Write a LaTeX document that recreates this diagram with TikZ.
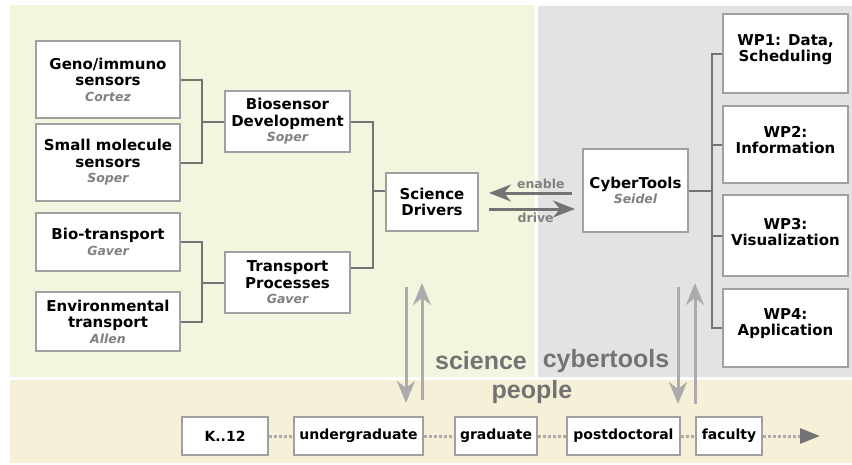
\documentclass[tikz,border=0pt]{standalone}
\usepackage{fontspec}
\setmainfont{DejaVu Sans}
\newfontfamily\labelfont{Liberation Sans}
\usetikzlibrary{arrows.meta}
\definecolor{sciencebg}{RGB}{241,247,222}
\definecolor{cyberbg}{RGB}{227,227,227}
\definecolor{peoplebg}{RGB}{247,240,217}
\definecolor{boxline}{RGB}{160,160,160}
\definecolor{linkgrey}{RGB}{115,115,115}
\definecolor{namegrey}{RGB}{128,128,128}
\definecolor{vertgrey}{RGB}{172,172,172}
\tikzset{
  box/.style={draw=boxline, line width=2pt, fill=white, align=center, inner sep=2pt,
    font=\fontsize{15}{16.5}\selectfont\bfseries},
  stage/.style={box, minimum height=38pt, font=\fontsize{14}{16}\selectfont\bfseries},
  link/.style={draw=linkgrey, line width=2pt},
  flow/.style={draw=linkgrey, line width=3pt, -{Stealth[length=22pt,width=17pt,inset=7pt]}},
  updown/.style={draw=vertgrey, line width=3pt, -{Stealth[length=22pt,width=18pt,inset=7pt]}},
  tag/.style={text=namegrey, font=\fontsize{12.5}{14}\selectfont\bfseries},
  area/.style={text=linkgrey, font=\labelfont\fontsize{25}{25}\selectfont\bfseries}
}
\newcommand{\who}[1]{\\[-1pt]{\color{namegrey}\fontsize{12.5}{14}\selectfont\itshape #1}}
\begin{document}
\begin{tikzpicture}[x=1pt,y=-1pt]
\useasboundingbox (0,0) rectangle (852,464);
% areas
\fill[sciencebg] (10,5) rectangle (535,377);
\fill[cyberbg] (538,6) rectangle (852,377);
\fill[peoplebg] (10,380) rectangle (852,463);
% science side
\node[box, minimum width=144pt, minimum height=77pt] (geno) at (108,79.5){Geno/immuno\\sensors\who{Cortez}};
\node[box, minimum width=144pt, minimum height=77pt] (small) at (108,162.5){Small molecule\\sensors\who{Soper}};
\node[box, minimum width=144pt, minimum height=58pt] (biot) at (108,242){Bio-transport\who{Gaver}};
\node[box, minimum width=144pt, minimum height=59pt] (env) at (108,321.5){Environmental\\transport\who{Allen}};
\node[box, minimum width=125pt, minimum height=61pt] (biodev) at (287.5,121.5){Biosensor\\Development\who{Soper}};
\node[box, minimum width=125pt, minimum height=61pt] (trans) at (287.5,282.5){Transport\\Processes\who{Gaver}};
\node[box, minimum width=92pt, minimum height=58pt] (sd) at (432,202){Science\\Drivers};
\coordinate (jbio) at (202,121.5);
\coordinate (jtr) at (202,282.5);
\coordinate (jsd) at (373,191);
\draw[link] (geno.east) -| (jbio) |- (small.east);
\draw[link] (jbio) -- (biodev.west);
\draw[link] (biot.east) -| (jtr) |- (env.east);
\draw[link] (jtr) -- (trans.west);
\draw[link] (biodev.east) -| (jsd) |- ([yshift=14.5pt]trans.east);
\draw[link] (jsd) -- (sd.west |- jsd);
% cybertools side
\node[box, minimum width=105pt, minimum height=83pt] (ct) at (635.5,190.5){CyberTools\who{Seidel}};
\node[box, minimum width=125pt, minimum height=79pt] (wp1) at (785.5,53.5){WP1: Data,\\Scheduling\\[-6pt]};
\node[box, minimum width=125pt, minimum height=77pt] (wp2) at (785.5,144.5){WP2:\\Information\\[-7pt]};
\node[box, minimum width=125pt, minimum height=81pt] (wp3) at (785.5,235.5){WP3:\\Visualization\\[-9pt]};
\node[box, minimum width=125pt, minimum height=78pt] (wp4) at (785.5,328){WP4:\\Application\\[-5pt]};
\coordinate (jct) at (712,190.5);
\draw[link] (ct.east) -- (jct);
\draw[link] (wp1.west) -| (jct) |- (wp4.west);
\draw[link] (jct |- wp2.west) -- (wp2.west);
\draw[link] (jct |- wp3.west) -- (wp3.west);
% enable / drive
\draw[flow, shorten <=10pt, shorten >=10pt] ([yshift=-2.5pt]ct.west) -- ([yshift=-2.5pt]ct.west -| sd.east)
  node[tag, pos=0.4, above=-1pt] (enable) {enable};
\draw[flow, shorten <=10pt, shorten >=7pt] ([yshift=-7pt]sd.east) -- ([yshift=-7pt]sd.east -| ct.west)
  node[tag, pos=0.55, below=-1pt] (drive) {drive};
% people
\node[stage, minimum width=86pt] (k12) at (225,436){K..12};
\node[stage, minimum width=129pt] (ug) at (358.5,436){undergraduate};
\node[stage, minimum width=82pt] (grad) at (496,436){graduate};
\node[stage, minimum width=113pt] (pd) at (623.5,436){postdoctoral};
\node[stage, minimum width=66pt] (fac) at (729,436){faculty};
\coordinate (next) at (820,436);
\draw[draw=vertgrey, line width=3pt, dash pattern=on 3pt off 2pt]
  (k12) -- (ug) (ug) -- (grad) (grad) -- (pd) (pd) -- (fac);
\draw[draw=vertgrey, line width=3pt, dash pattern=on 3pt off 2pt,
  -{Triangle[length=20pt,width=15pt,color=linkgrey]}] (fac) -- (next);
% science/cybertools/people exchange
\coordinate (sdown) at (406,287);
\coordinate (sdownend) at (406,403);
\coordinate (sup) at (422,400);
\coordinate (supend) at (422,283);
\coordinate (cdown) at (678,287);
\coordinate (cdownend) at (678,404);
\coordinate (cup) at (695,404);
\coordinate (cupend) at (695,283);
\draw[updown] (sdown) -- (sdownend);
\draw[updown] (sup) -- (supend);
\draw[updown] (cdown) -- (cdownend);
\draw[updown] (cup) -- (cupend);
\node[area] (science) at (481,361){science};
\node[area] (cyber) at (606,361){cybertools};
\node[area] (people) at (532,392){people};
\end{tikzpicture}
\end{document}
